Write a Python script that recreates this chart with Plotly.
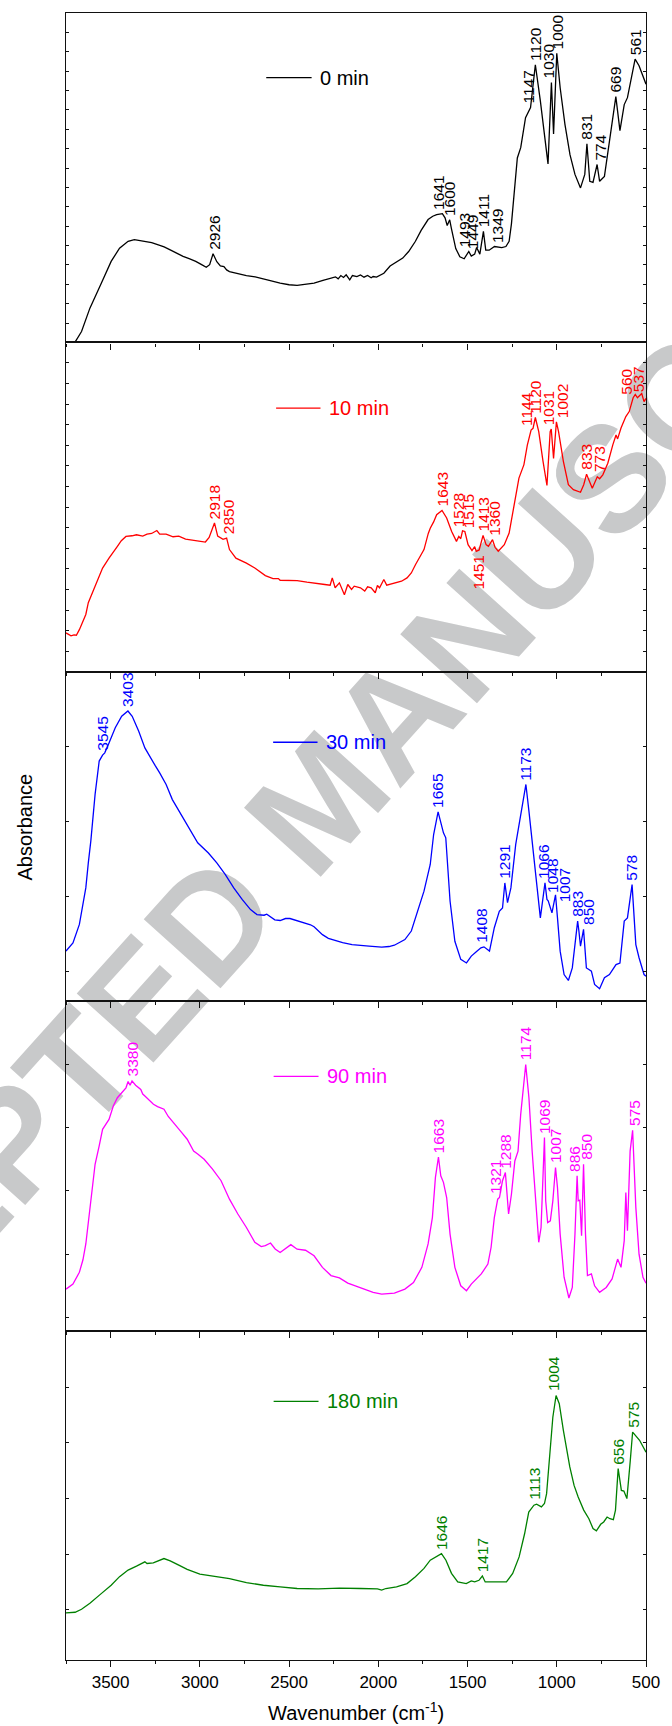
import numpy as np
import plotly.graph_objects as go
from plotly.subplots import make_subplots

# ---------------------------------------------------------------------------
# FTIR spectra (wavenumber in cm-1, absorbance in arbitrary units, each panel
# normalised to its own 0..1 window) recorded after different reaction times.
# ---------------------------------------------------------------------------
WN_0 = [3750, 3700, 3663, 3616, 3556, 3497, 3450, 3402, 3367, 3340, 3308, 3270, 3237, 3200,
        3166, 3130, 3094, 3060, 3023, 2990, 2964, 2945, 2926, 2905, 2885, 2865, 2850, 2834,
        2790, 2739, 2690, 2644, 2600, 2550, 2500, 2455, 2410, 2360, 2310, 2265, 2240, 2225,
        2210, 2195, 2180, 2160, 2145, 2120, 2100, 2080, 2060, 2040, 2029, 2010, 1969, 1934,
        1900, 1863, 1830, 1792, 1760, 1721, 1695, 1673, 1641, 1626, 1614, 1600, 1590, 1566,
        1543, 1519, 1493, 1479, 1460, 1449, 1431, 1411, 1398, 1379, 1349, 1308, 1285, 1267,
        1254, 1240, 1221, 1202, 1175, 1147, 1120, 1092, 1064, 1049, 1030, 1018, 1000, 981,
        954, 926, 898, 867, 843, 831, 815, 797, 774, 760, 733, 705, 669, 646, 622, 604,
        561, 539, 500]
ABS_0 = [-0.030, 0.000, 0.033, 0.104, 0.175, 0.246, 0.286, 0.307, 0.312, 0.309, 0.306, 0.303,
         0.297, 0.290, 0.281, 0.270, 0.261, 0.254, 0.246, 0.236, 0.228, 0.236, 0.269, 0.245,
         0.232, 0.230, 0.220, 0.215, 0.209, 0.203, 0.199, 0.194, 0.187, 0.180, 0.175, 0.173,
         0.176, 0.180, 0.188, 0.195, 0.199, 0.193, 0.203, 0.197, 0.205, 0.190, 0.203, 0.200,
         0.205, 0.198, 0.203, 0.196, 0.200, 0.198, 0.210, 0.232, 0.243, 0.256, 0.276, 0.307,
         0.340, 0.373, 0.383, 0.388, 0.391, 0.378, 0.355, 0.372, 0.345, 0.285, 0.260, 0.254,
         0.276, 0.262, 0.268, 0.288, 0.268, 0.337, 0.280, 0.280, 0.291, 0.288, 0.291, 0.307,
         0.360, 0.450, 0.560, 0.591, 0.682, 0.713, 0.843, 0.733, 0.611, 0.542, 0.789, 0.633,
         0.878, 0.773, 0.661, 0.570, 0.510, 0.469, 0.510, 0.603, 0.489, 0.486, 0.540, 0.489,
         0.504, 0.611, 0.746, 0.643, 0.722, 0.743, 0.860, 0.840, 0.784]
PEAKS_0 = [2926, 1641, 1600, 1493, 1449, 1411, 1349, 1147, 1120, 1030, 1000, 831, 774, 669, 561]

WN_10 = [3750, 3735, 3722, 3705, 3692, 3675, 3663, 3639, 3625, 3611, 3595, 3580, 3562, 3545,
         3509, 3485, 3462, 3440, 3414, 3380, 3355, 3320, 3296, 3270, 3241, 3225, 3189, 3150,
         3118, 3080, 3047, 3000, 2969, 2948, 2918, 2900, 2870, 2850, 2834, 2798, 2739, 2692,
         2660, 2633, 2590, 2560, 2550, 2500, 2455, 2400, 2360, 2300, 2270, 2258, 2242, 2218,
         2190, 2171, 2150, 2135, 2100, 2076, 2060, 2040, 2017, 2005, 1993, 1969, 1953, 1910,
         1870, 1839, 1815, 1792, 1765, 1744, 1720, 1709, 1690, 1673, 1643, 1617, 1589, 1562,
         1549, 1538, 1528, 1515, 1497, 1475, 1460, 1451, 1435, 1413, 1396, 1383, 1360, 1346,
         1328, 1294, 1267, 1239, 1212, 1184, 1165, 1144, 1133, 1120, 1101, 1077, 1055, 1037,
         1031, 1018, 1002, 990, 963, 935, 907, 867, 849, 833, 815, 801, 773, 760, 742, 714,
         686, 668, 659, 640, 613, 594, 572, 560, 548, 537, 524, 511, 500]
ABS_10 = [0.118, 0.112, 0.109, 0.112, 0.111, 0.128, 0.143, 0.174, 0.210, 0.229, 0.245, 0.265,
          0.290, 0.315, 0.345, 0.365, 0.381, 0.398, 0.411, 0.413, 0.416, 0.412, 0.418, 0.420,
          0.429, 0.418, 0.418, 0.410, 0.412, 0.403, 0.401, 0.396, 0.394, 0.408, 0.452, 0.412,
          0.402, 0.406, 0.371, 0.345, 0.330, 0.315, 0.302, 0.292, 0.283, 0.283, 0.278, 0.277,
          0.277, 0.272, 0.270, 0.265, 0.263, 0.285, 0.255, 0.270, 0.234, 0.265, 0.250, 0.260,
          0.255, 0.245, 0.258, 0.255, 0.240, 0.262, 0.255, 0.280, 0.263, 0.270, 0.275, 0.285,
          0.300, 0.325, 0.350, 0.371, 0.420, 0.436, 0.455, 0.477, 0.490, 0.467, 0.426, 0.396,
          0.411, 0.404, 0.428, 0.426, 0.386, 0.368, 0.380, 0.366, 0.370, 0.414, 0.386, 0.381,
          0.401, 0.378, 0.366, 0.386, 0.421, 0.507, 0.588, 0.629, 0.688, 0.734, 0.739, 0.772,
          0.729, 0.639, 0.566, 0.729, 0.737, 0.648, 0.759, 0.729, 0.639, 0.568, 0.553, 0.545,
          0.568, 0.600, 0.573, 0.557, 0.592, 0.586, 0.598, 0.633, 0.689, 0.719, 0.707, 0.740,
          0.775, 0.790, 0.832, 0.842, 0.832, 0.838, 0.845, 0.820, 0.830]
PEAKS_10 = [2918, 2850, 1643, 1528, 1515, 1451, 1413, 1360, 1144, 1120, 1031, 1002, 833, 773,
            560, 537]

WN_30 = [3750, 3711, 3675, 3655, 3639, 3625, 3611, 3587, 3564, 3545, 3533, 3509, 3474, 3438,
         3403, 3379, 3343, 3308, 3272, 3250, 3225, 3189, 3154, 3106, 3059, 3012, 2952, 2905,
         2858, 2810, 2763, 2716, 2680, 2640, 2625, 2609, 2580, 2550, 2520, 2495, 2455, 2408,
         2380, 2360, 2313, 2280, 2242, 2200, 2147, 2100, 2052, 1981, 1940, 1910, 1851, 1815,
         1780, 1744, 1709, 1690, 1665, 1650, 1635, 1622, 1598, 1571, 1538, 1506, 1479, 1451,
         1425, 1408, 1390, 1377, 1350, 1322, 1304, 1291, 1276, 1257, 1230, 1202, 1173, 1156,
         1132, 1110, 1092, 1066, 1055, 1048, 1027, 1007, 996, 981, 959, 935, 913, 883, 876,
         867, 850, 834, 820, 806, 788, 760, 733, 705, 668, 646, 622, 604, 578, 557, 539, 511,
         500]
ABS_30 = [0.152, 0.177, 0.233, 0.290, 0.344, 0.420, 0.486, 0.628, 0.729, 0.747, 0.754, 0.784,
          0.830, 0.865, 0.881, 0.865, 0.820, 0.769, 0.734, 0.715, 0.693, 0.658, 0.612, 0.567,
          0.521, 0.481, 0.450, 0.420, 0.385, 0.344, 0.309, 0.278, 0.263, 0.261, 0.264, 0.258,
          0.247, 0.245, 0.251, 0.251, 0.244, 0.236, 0.232, 0.226, 0.202, 0.191, 0.184, 0.178,
          0.172, 0.169, 0.167, 0.164, 0.166, 0.170, 0.187, 0.213, 0.273, 0.334, 0.415, 0.506,
          0.575, 0.540, 0.511, 0.496, 0.304, 0.182, 0.127, 0.116, 0.137, 0.150, 0.162, 0.165,
          0.157, 0.152, 0.223, 0.273, 0.283, 0.359, 0.299, 0.344, 0.476, 0.562, 0.658, 0.577,
          0.465, 0.344, 0.253, 0.359, 0.309, 0.305, 0.268, 0.323, 0.253, 0.152, 0.081, 0.063,
          0.101, 0.243, 0.213, 0.167, 0.218, 0.101, 0.096, 0.091, 0.051, 0.038, 0.071, 0.081,
          0.111, 0.116, 0.243, 0.253, 0.354, 0.172, 0.132, 0.081, 0.076]
PEAKS_30 = [3545, 3403, 1665, 1408, 1291, 1173, 1066, 1048, 1007, 883, 850, 578]

WN_90 = [3750, 3711, 3675, 3655, 3639, 3625, 3611, 3587, 3564, 3545, 3509, 3485, 3462, 3438,
         3414, 3402, 3391, 3380, 3360, 3331, 3320, 3308, 3296, 3284, 3260, 3237, 3201, 3177,
         3142, 3106, 3071, 3035, 3012, 2976, 2929, 2881, 2834, 2787, 2739, 2692, 2656, 2633,
         2604, 2578, 2550, 2521, 2490, 2455, 2408, 2360, 2313, 2265, 2218, 2171, 2100, 2029,
         1981, 1910, 1851, 1803, 1756, 1721, 1697, 1680, 1663, 1650, 1635, 1617, 1598, 1571,
         1538, 1506, 1479, 1460, 1423, 1386, 1368, 1350, 1331, 1321, 1304, 1288, 1270, 1254,
         1235, 1217, 1202, 1174, 1156, 1138, 1114, 1101, 1088, 1077, 1069, 1062, 1051, 1036,
         1022, 1007, 996, 981, 959, 932, 913, 898, 886, 880, 871, 861, 850, 839, 828, 806,
         788, 760, 723, 690, 659, 640, 622, 613, 604, 589, 575, 557, 539, 517, 500]
ABS_90 = [0.126, 0.141, 0.177, 0.215, 0.263, 0.330, 0.404, 0.505, 0.561, 0.611, 0.641, 0.682,
          0.707, 0.722, 0.737, 0.756, 0.745, 0.758, 0.745, 0.732, 0.718, 0.712, 0.705, 0.700,
          0.687, 0.680, 0.672, 0.650, 0.626, 0.604, 0.581, 0.545, 0.536, 0.520, 0.490, 0.455,
          0.399, 0.354, 0.313, 0.268, 0.255, 0.258, 0.266, 0.248, 0.237, 0.250, 0.261, 0.247,
          0.244, 0.227, 0.192, 0.167, 0.160, 0.144, 0.131, 0.116, 0.111, 0.114, 0.126, 0.146,
          0.192, 0.263, 0.343, 0.465, 0.527, 0.470, 0.450, 0.404, 0.293, 0.192, 0.136, 0.121,
          0.141, 0.152, 0.172, 0.202, 0.253, 0.343, 0.399, 0.404, 0.455, 0.480, 0.354, 0.414,
          0.515, 0.545, 0.657, 0.808, 0.707, 0.545, 0.343, 0.268, 0.313, 0.444, 0.586, 0.394,
          0.328, 0.333, 0.394, 0.495, 0.434, 0.293, 0.162, 0.099, 0.131, 0.293, 0.470, 0.394,
          0.396, 0.288, 0.505, 0.293, 0.167, 0.172, 0.136, 0.116, 0.131, 0.157, 0.217, 0.192,
          0.273, 0.419, 0.303, 0.545, 0.608, 0.374, 0.232, 0.162, 0.144]
PEAKS_90 = [3380, 1663, 1321, 1288, 1174, 1069, 1007, 886, 850, 575]

WN_180 = [3750, 3699, 3663, 3616, 3556, 3497, 3450, 3402, 3355, 3320, 3308, 3296, 3261, 3201,
          3166, 3118, 3071, 3000, 2929, 2834, 2739, 2644, 2550, 2455, 2337, 2218, 2100, 2005,
          1981, 1958, 1898, 1839, 1792, 1744, 1709, 1673, 1646, 1621, 1590, 1555, 1507, 1479,
          1460, 1436, 1417, 1401, 1365, 1282, 1247, 1211, 1180, 1157, 1128, 1113, 1086, 1069,
          1057, 1038, 1022, 1004, 986, 963, 927, 903, 880, 849, 820, 797, 778, 754, 737, 718,
          702, 683, 671, 656, 638, 624, 607, 588, 575, 536, 500]
ABS_180 = [0.143, 0.145, 0.154, 0.172, 0.200, 0.227, 0.253, 0.273, 0.285, 0.293, 0.298, 0.293,
           0.295, 0.308, 0.301, 0.288, 0.275, 0.261, 0.255, 0.247, 0.235, 0.227, 0.222, 0.217,
           0.216, 0.218, 0.217, 0.216, 0.212, 0.217, 0.222, 0.232, 0.253, 0.278, 0.303, 0.313,
           0.323, 0.303, 0.263, 0.237, 0.232, 0.240, 0.237, 0.242, 0.255, 0.237, 0.237, 0.237,
           0.263, 0.313, 0.384, 0.449, 0.470, 0.473, 0.465, 0.475, 0.505, 0.626, 0.737, 0.803,
           0.778, 0.697, 0.586, 0.530, 0.495, 0.455, 0.429, 0.399, 0.392, 0.412, 0.419, 0.434,
           0.429, 0.426, 0.455, 0.581, 0.515, 0.513, 0.490, 0.606, 0.692, 0.667, 0.631]
PEAKS_180 = [1646, 1417, 1113, 1004, 656, 575]

TIMES = ["0 min", "10 min", "30 min", "90 min", "180 min"]
COLORS = ["#000000", "#ff0000", "#0000ff", "#ff00ff", "#008000"]
X_TICKS = [3500, 3000, 2500, 2000, 1500, 1000, 500]

# ---------------------------------------------------------------------------
# Layout constants (pixels)
# ---------------------------------------------------------------------------
W, H = 672, 1726
ML, MR, MT, MB = 66, 18, 12, 66
PW, PH = W - ML - MR, H - MT - MB
FONT = "Liberation Sans, Arial, Helvetica, sans-serif"


def px_to_paper(xp, yp):
    return (xp - ML) / PW, (H - MB - yp) / PH


# per-panel y tick layout (tick0, dtick) in normalised absorbance
Y_TICKS = [(0.0, 1 / 17), (0.0, 1 / 16), (0.091, 0.2277), (0.04, 0.192), (0.152, 0.169)]

# key sample: line start / end, baseline and text start, in pixels
KEY_PX = [(269, 315, 76.7, 321), (279, 324, 407.3, 331), (276, 321, 741.7, 328),
          (276.5, 322, 1076, 329), (276.5, 322, 1401.3, 329)]

# nudges (dx, dy in px) for crowded peak labels; "below" labels hang under the curve
LABEL_NUDGE = {
    (0, 2926): (2, 2), (0, 1641): (-4, 2), (0, 1493): (-4, 2), (0, 1449): (-4, -4),
    (0, 1349): (3, 2), (0, 1147): (-3, 2), (0, 1030): (-3, 2), (0, 1000): (1, 2),
    (0, 774): (3, 2),
    (1, 2850): (2, 2), (1, 1528): (-4, 1), (1, 1515): (4, 1), (1, 1451): (2, -2),
    (1, 1360): (2, 2), (1, 1144): (-5, 2), (1, 1031): (-3, 2), (1, 1002): (6, 2),
    (1, 773): (3, 3), (1, 560): (-9, -2), (1, 537): (-1, 2),
    (2, 1408): (-2, 2), (2, 1066): (-1, 2), (2, 1048): (5, 6), (2, 1007): (9, -10),
    (2, 850): (5, 2),
    (3, 1321): (-4, 2), (3, 886): (-2, 2), (3, 850): (3, 2), (3, 575): (2, 2),
    (4, 1113): (-2, 2), (4, 1004): (-2, 2),
}
LABEL_BELOW = {(1, 1451)}

spectra = [(WN_0, ABS_0, PEAKS_0), (WN_10, ABS_10, PEAKS_10), (WN_30, ABS_30, PEAKS_30),
           (WN_90, ABS_90, PEAKS_90), (WN_180, ABS_180, PEAKS_180)]

fig = make_subplots(rows=5, cols=1, shared_xaxes=True, vertical_spacing=0)

annotations = []
shapes = []
for i, ((wn, ab, peaks), name, color) in enumerate(zip(spectra, TIMES, COLORS)):
    row = i + 1
    fig.add_trace(go.Scatter(x=wn, y=ab, mode="lines", name=name,
                             line=dict(color=color, width=1.3)), row=row, col=1)
    sfx = "" if row == 1 else str(row)
    wn_a, ab_a = np.asarray(wn, float)[::-1], np.asarray(ab, float)[::-1]
    for p in peaks:
        dx, dy = LABEL_NUDGE.get((i, p), (0, 2))
        below = (i, p) in LABEL_BELOW
        annotations.append(dict(
            x=p, y=float(np.interp(p, wn_a, ab_a)), xref="x" + sfx, yref="y" + sfx,
            text=str(p), textangle=-90, showarrow=False, xanchor="center",
            yanchor="top" if below else "bottom", xshift=dx, yshift=dy,
            font=dict(family=FONT, size=15.5, color=color)))

    # in-panel key
    lx0, lx1, ly, tx = KEY_PX[i]
    x0p, yp = px_to_paper(lx0, ly)
    x1p, _ = px_to_paper(lx1, ly)
    shapes.append(dict(type="line", xref="paper", yref="paper", x0=x0p, x1=x1p, y0=yp, y1=yp,
                       line=dict(color=color, width=1.3)))
    txp, _ = px_to_paper(tx, ly + 1)
    annotations.append(dict(x=txp, y=yp, xref="paper", yref="paper", text=name,
                            showarrow=False, xanchor="left", yanchor="middle",
                            font=dict(family=FONT, size=20, color=color)))

    t0, dt = Y_TICKS[i]
    fig.update_yaxes(row=row, col=1, range=[0, 1], showticklabels=False, showgrid=False,
                     zeroline=False, showline=True, linecolor="#111111", linewidth=1.2,
                     mirror="ticks", ticks="inside", ticklen=3, tickwidth=1,
                     tickcolor="#111111", tick0=t0, dtick=dt)
    fig.update_xaxes(row=row, col=1, range=[3750, 500], showgrid=False, zeroline=False,
                     showline=True, linecolor="#111111", linewidth=1.2, mirror=True,
                     ticks="outside", ticklen=6, tickwidth=1, tickcolor="#111111",
                     tickmode="array", tickvals=X_TICKS, ticktext=[str(v) for v in X_TICKS],
                     minor=dict(dtick=250, tick0=500, ticks="outside", ticklen=3,
                                tickcolor="#111111"),
                     showticklabels=(row == 5),
                     tickfont=dict(family=FONT, size=17, color="#000000"))

# axis titles
ax, ay = px_to_paper(ML + PW / 2, 1711.5)
annotations.append(dict(x=ax, y=ay, xref="paper", yref="paper",
                        text="Wavenumber (cm<sup>-1</sup>)", showarrow=False,
                        xanchor="center", yanchor="middle",
                        font=dict(family=FONT, size=20, color="#000000")))
bx, by = px_to_paper(23.5, 827)
annotations.append(dict(x=bx, y=by, xref="paper", yref="paper", text="Absorbance",
                        textangle=-90, showarrow=False, xanchor="center", yanchor="middle",
                        font=dict(family=FONT, size=20, color="#000000")))

# diagonal watermark behind the spectra
wx, wy = px_to_paper(313, 790)
shapes.insert(0, dict(type="rect", xref="paper", yref="paper", layer="below",
                      x0=wx - 0.001, x1=wx + 0.001, y0=wy - 0.001, y1=wy + 0.001,
                      line=dict(width=0), fillcolor="rgba(0,0,0,0)",
                      label=dict(text="ACCEPTED MANUSCRIPT", textangle=-48,
                                 textposition="middle center", padding=0,
                                 font=dict(family=FONT, size=150, color="#c8c9ca",
                                           weight="bold"))))

fig.update_layout(width=W, height=H, margin=dict(l=ML, r=MR, t=MT, b=MB),
                  paper_bgcolor="white", plot_bgcolor="rgba(0,0,0,0)", showlegend=False,
                  annotations=annotations, shapes=shapes)

fig.write_html("out.html")
